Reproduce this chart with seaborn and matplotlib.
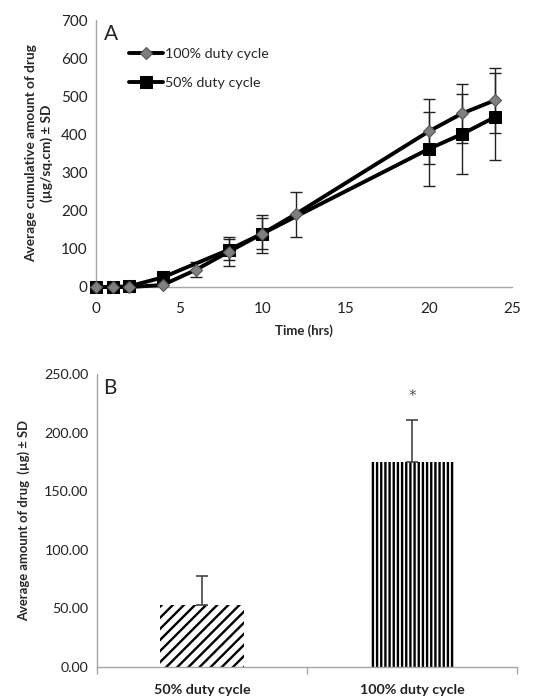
import matplotlib
matplotlib.use("Agg")
import matplotlib.pyplot as plt
import seaborn as sns
import pandas as pd

# ---- data ----
time_100 = [0, 1, 2, 4, 6, 8, 10, 12, 20, 22, 24]
mean_100 = [0, 0, 0, 5, 45, 93, 140, 191, 408, 455, 490]
sd_100 = [2, 2, 2, 5, 20, 38, 50, 59, 86, 77, 85]

time_50 = [0, 1, 2, 4, 8, 10, 20, 22, 24]
mean_50 = [0, 0, 2, 25, 98, 140, 362, 401, 446]
sd_50 = [2, 2, 2, 8, 27, 40, 98, 104, 114]

bar_labels = ["50% duty cycle", "100% duty cycle"]
bar_means = [53, 175]
bar_sd = [25, 36]

series_labels = ["100% duty cycle", "50% duty cycle"]

sns.set_theme(style="white")
plt.rcParams["font.family"] = ["Lato", "DejaVu Sans"]
plt.rcParams["hatch.linewidth"] = 1.7

fig = plt.figure(figsize=(5.54, 6.97), dpi=100)
axA = fig.add_axes([96 / 554, 1 - 287 / 697, (512 - 96) / 554, (287 - 20) / 697])
axB = fig.add_axes([97 / 554, 1 - 667 / 697, (517 - 97) / 554, (667 - 374) / 697])

spine_col = "#a6a6a6"
for ax in (axA, axB):
    for s in ["top", "right"]:
        ax.spines[s].set_visible(False)
    for s in ["left", "bottom"]:
        ax.spines[s].set_color(spine_col)
        ax.spines[s].set_linewidth(1.0)

# ---- Panel A ----
df100 = pd.DataFrame({"t": time_100, "v": mean_100})
df50 = pd.DataFrame({"t": time_50, "v": mean_50})

axA.errorbar(time_100, mean_100, yerr=sd_100, fmt="none", ecolor="#222222",
             elinewidth=1.0, capsize=4, capthick=1.0, zorder=2)
axA.errorbar(time_50, mean_50, yerr=sd_50, fmt="none", ecolor="#222222",
             elinewidth=1.0, capsize=4, capthick=1.0, zorder=2)

sns.lineplot(data=df50, x="t", y="v", ax=axA, color="black", linewidth=2.8,
             marker="s", markersize=8, markerfacecolor="black",
             markeredgecolor="black", label=series_labels[1], zorder=3,
             clip_on=False)
sns.lineplot(data=df100, x="t", y="v", ax=axA, color="black", linewidth=2.8,
             marker="D", markersize=6.5, markerfacecolor="#7f7f7f",
             markeredgecolor="#555555", markeredgewidth=0.8,
             label=series_labels[0], zorder=4, clip_on=False)

axA.set_xlim(0, 25)
axA.set_ylim(0, 700)
axA.set_xticks([0, 5, 10, 15, 20, 25])
axA.set_yticks(range(0, 701, 100))
axA.tick_params(axis="both", labelsize=11, colors="#222222", length=0, pad=6)
axA.tick_params(axis="x", direction="out", length=5, color=spine_col, width=1.0)
axA.set_xlabel("Time (hrs)", fontsize=9.5, fontweight="bold", labelpad=6)
axA.set_ylabel("Average cumulative amount of drug\n(µg/sq.cm) ± SD",
               fontsize=9.8, fontweight="bold", labelpad=6, linespacing=1.3)
axA.text(0.02, 0.985, "A", transform=axA.transAxes, fontsize=15,
         va="top", ha="left")

h, l = axA.get_legend_handles_labels()
order = [l.index(series_labels[0]), l.index(series_labels[1])]
axA.legend([h[i] for i in order], [l[i] for i in order], loc="upper left",
           bbox_to_anchor=(0.065, 0.915), frameon=False, fontsize=10.3,
           handlelength=2.4, handletextpad=0.1, labelspacing=1.15,
           borderaxespad=0)

# ---- Panel B ----
dfB = pd.DataFrame({"cond": bar_labels, "val": bar_means})
sns.barplot(data=dfB, x="cond", y="val", ax=axB, color="white", width=0.4,
            edgecolor="black", linewidth=0, errorbar=None)
hatches = ["///", "||||"]
for patch, hch in zip(axB.patches, hatches):
    patch.set_hatch(hch)
    patch.set_facecolor("white")
    patch.set_edgecolor("black")
    patch.set_linewidth(0)

axB.errorbar([0, 1], bar_means, yerr=[[0, 0], bar_sd], fmt="none",
             ecolor="#444444", elinewidth=1.2, capsize=4, capthick=1.2)
axB.text(1, 231, "*", ha="center", va="center", fontsize=11, color="#555555",
         family="DejaVu Sans")

axB.set_xlim(-0.5, 1.5)
axB.set_ylim(0, 250)
axB.set_yticks([0, 50, 100, 150, 200, 250])
axB.set_yticklabels([f"{v:.2f}" for v in [0, 50, 100, 150, 200, 250]])
axB.set_xticks([-0.5, 0.5, 1.5], minor=True)
axB.set_xticks([0, 1])
axB.set_xticklabels(bar_labels, fontweight="bold", fontsize=10.3)
axB.tick_params(axis="x", which="major", length=0, pad=12, colors="#222222")
axB.tick_params(axis="x", which="minor", length=5, color=spine_col,
                width=1.0, direction="out", bottom=True)
axB.tick_params(axis="y", labelsize=10.3, colors="#222222", length=0, pad=6)
axB.set_xlabel("")
axB.set_ylabel("Average amount of drug  (µg) ± SD", fontsize=9.4,
               fontweight="bold", labelpad=10)
axB.text(0.015, 0.985, "B", transform=axB.transAxes, fontsize=15,
         va="top", ha="left")

fig.savefig("out.png", dpi=100)
